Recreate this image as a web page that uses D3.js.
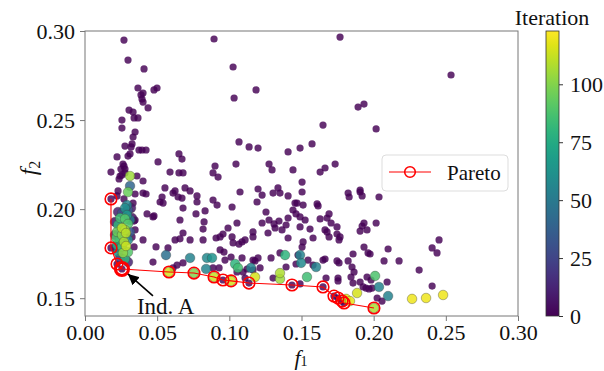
<!DOCTYPE html>
<html><head><meta charset="utf-8">
<script src="https://cdn.jsdelivr.net/npm/d3@7"></script>
<style>
body{margin:0;background:#fff}
svg{display:block}
svg text{font-family:"Liberation Serif","Times New Roman",serif !important;fill:#111}
</style>
</head><body>
<svg id="c" width="604" height="371"></svg>
<script>
// ---------- DATA ----------
// initial population (iteration 0)
const initF1 = [0.0270,0.0298,0.0409,0.0367,0.0402,0.0388,0.0395,0.0402,0.0437,0.0478,0.0499,0.0305,0.0333,0.0256,0.0340,0.0367,0.0256,0.0347,0.0333,0.0326,
0.0277,0.0319,0.0374,0.0395,0.0423,0.0312,0.0298,0.0222,0.0506,0.0263,0.0270,0.0249,0.0277,0.0180,0.0277,0.0243,0.0651,0.0672,0.0589,0.0651,
0.0679,0.0894,0.1026,0.1033,0.1185,0.1067,0.1137,0.1199,0.1407,0.1490,0.0901,0.1046,0.1275,0.1296,0.1441,0.0887,0.0922,0.1767,0.2536,0.1892,
0.1933,0.1649,0.2017,0.1573,0.1629,0.1663,0.1733,0.1504,0.1906,0.2453,0.2405,0.2439,0.2315,0.2405,0.1504,0.1823,0.1830,0.1906,0.1920,0.2037,
0.1511,0.1608,0.1615,0.1455,0.1691,0.1677,0.1525,0.1629,0.1705,0.1746,0.1920,0.1933,0.2017,0.1663,0.1677,0.1559,0.1490,0.1746,0.1767,0.1760,
0.1954,0.1906,0.1511,0.1504,0.1691,0.1580,0.1933,0.1961,0.1975,0.2100,0.1857,0.1649,0.1663,0.1746,0.1760,0.1823,0.2072,0.2176,0.1580,0.1545,
0.1850,0.1864,0.1670,0.1753,0.1753,0.1843,0.1906,0.1954,0.1982,0.2093,0.1927,0.1947,0.1968,0.1989,0.2024,0.2058,0.1490,0.1857,0.1074,0.1199,
0.1227,0.1192,0.1337,0.1351,0.1407,0.1303,0.1469,0.0693,0.0672,0.0776,0.0776,0.0915,0.1019,0.0658,0.0769,0.0832,0.0825,0.0818,0.0991,0.0956,
0.0936,0.1019,0.1109,0.1067,0.1026,0.1088,0.1164,0.1164,0.1254,0.1275,0.1227,0.1310,0.1344,0.1407,0.1441,0.1462,0.1490,0.1393,0.1365,0.1317,
0.1268,0.1407,0.0728,0.0818,0.0908,0.0679,0.0936,0.0963,0.0970,0.1012,0.1088,0.1164,0.1178,0.1199,0.1351,0.1289,0.0887,0.0929,0.1053,0.1095,
0.1213,0.1109,0.1476,0.1462,0.1393,0.1303,0.1123,0.1164,0.0402,0.0534,0.0541,0.0610,0.0645,0.0887,0.0423,0.0347,0.0229,0.0222,0.0270,0.0402,
0.0347,0.0430,0.0478,0.1053,0.0402,0.0492,0.0575,0.0658,0.0471,0.0610,0.0638,0.0679,0.0679,0.0554,0.0624,0.0471,0.0624,0.0333,0.0360,0.0340,
0.0326,0.0340,0.0347,0.0520,0.0728,0.0256,0.0236,
0.0180,0.0180,0.0222,0.0256,0.0956,0.1136,0.1434,0.1649,0.1725,0.1753,0.1781,0.1795];
const initF2 = [0.2949,0.2837,0.2787,0.2680,0.2652,0.2641,0.2618,0.2601,0.2568,0.2669,0.2680,0.2556,0.2545,0.2500,0.2512,0.2512,0.2455,0.2433,0.2405,0.2366,
0.2354,0.2349,0.2332,0.2332,0.2332,0.2310,0.2298,0.2293,0.2265,0.2253,0.2242,0.2225,0.2225,0.2208,0.2203,0.2186,0.2310,0.2281,0.2208,0.2203,
0.2203,0.2955,0.2798,0.2624,0.2669,0.2377,0.2349,0.2343,0.2321,0.2343,0.2242,0.2253,0.2253,0.2220,0.2220,0.2203,0.2180,0.2966,0.2753,0.2573,
0.2590,0.2472,0.2450,0.2366,0.2208,0.2231,0.2253,0.2152,0.2107,0.1827,0.1782,0.1754,0.1658,0.1568,0.2096,0.2090,0.2068,0.2096,0.2074,0.2068,
0.2023,0.2029,0.2018,0.2034,0.1973,0.1950,0.1939,0.1945,0.1922,0.1900,0.1905,0.1922,0.1922,0.1883,0.1872,0.1888,0.1900,0.1860,0.1844,0.1827,
0.1883,0.1877,0.1816,0.1787,0.1844,0.1838,0.1787,0.1754,0.1748,0.1776,0.1748,0.1714,0.1720,0.1709,0.1698,0.1709,0.1709,0.1709,0.1686,0.1714,
0.1675,0.1647,0.1613,0.1613,0.1597,0.1619,0.1591,0.1619,0.1602,0.1591,0.1563,0.1557,0.1552,0.1557,0.1501,0.1484,0.1580,0.1585,0.2096,0.2113,
0.2079,0.2040,0.2119,0.2090,0.2074,0.2090,0.2034,0.2119,0.2062,0.2074,0.2040,0.2023,0.2012,0.1939,0.1973,0.1990,0.1928,0.1888,0.1894,0.1860,
0.1844,0.1844,0.1827,0.1804,0.1810,0.1816,0.1872,0.1844,0.1984,0.1939,0.1922,0.1917,0.1933,0.1950,0.1995,0.1973,0.1956,0.1911,0.1883,0.1894,
0.1866,0.1838,0.1827,0.1827,0.1838,0.1866,0.1771,0.1759,0.1714,0.1731,0.1726,0.1714,0.1709,0.1726,0.1754,0.1726,0.1670,0.1670,0.1647,0.1647,
0.1670,0.1613,0.1742,0.1692,0.1675,0.1613,0.1664,0.1658,0.2090,0.2068,0.2034,0.2090,0.2068,0.2051,0.2085,0.2085,0.2102,0.2074,0.2057,0.2158,
0.1939,0.1973,0.1962,0.1922,0.1827,0.1788,0.1782,0.1833,0.1703,0.1670,0.1686,0.1698,0.2006,0.2119,0.2102,0.1956,0.1827,0.2034,0.2186,0.1933,
0.1844,0.1788,0.1883,0.2040,0.2102,0.2192,0.2169,
0.2057,0.1782,0.1692,0.1664,0.1602,0.1585,0.1574,0.1563,0.1512,0.1501,0.1484,0.1473];

// later iterations
const optF1 = [0.0312,0.0312,0.0298,0.0291,0.0277,0.0298,0.0229,0.0256,0.0291,0.0243,0.0277,0.0312,0.0229,0.0256,0.0277,0.0298,0.0222,0.0256,0.0284,0.0312,
0.0215,0.0243,0.0270,0.0298,0.0222,0.0256,0.0284,0.0229,0.0263,0.0298,0.0243,0.0277,0.0298,0.0319,0.0326,0.0208,0.0208,0.0215,
0.0561,0.0728,0.0845,0.0880,0.0839,0.1040,0.1060,0.1150,0.1178,0.1351,0.1351,0.1386,0.1490,0.1497,0.1601,0.1538,0.2010,0.2037,0.2100,0.1885,
0.1809,0.1836,0.2266,0.2363,0.2481,0.0582,0.0755,0.0894,0.1012,0.2002];
const optF2 = [0.2186,0.2130,0.2096,0.2023,0.2006,0.1995,0.1984,0.1978,0.1967,0.1950,0.1945,0.1939,0.1911,0.1894,0.1883,0.1917,0.1872,0.1855,0.1866,0.1872,
0.1838,0.1827,0.1816,0.1827,0.1799,0.1788,0.1793,0.1759,0.1754,0.1759,0.1726,0.1720,0.1703,0.2006,0.1950,0.1928,0.1855,0.1782,
0.1742,0.1726,0.1726,0.1726,0.1664,0.1692,0.1670,0.1670,0.1619,0.1641,0.1608,0.1742,0.1742,0.1698,0.1675,0.1619,0.1625,0.1563,0.1512,0.1529,
0.1496,0.1484,0.1496,0.1501,0.1518,0.1647,0.1641,0.1619,0.1597,0.1445];
const optIter = [105,40,95,55,60,35,10,30,65,85,90,50,80,110,105,90,95,100,110,35,
88,80,108,60,75,85,112,62,102,90,15,80,12,8,6,5,10,8,
45,55,58,62,55,80,85,55,115,108,105,80,55,58,55,85,88,55,55,115,
118,118,120,120,120,115,100,112,115,108];

// Pareto front
const paretoF1 = [0.0180,0.0180,0.0222,0.0256,0.0582,0.0755,0.0894,0.0956,0.1012,0.1136,0.1434,0.1649,0.1725,0.1753,0.1781,0.1795,0.2002];
const paretoF2 = [0.2057,0.1782,0.1692,0.1664,0.1647,0.1641,0.1619,0.1602,0.1597,0.1585,0.1574,0.1563,0.1512,0.1501,0.1484,0.1473,0.1445];
const indA = {f1:0.0256, f2:0.1664, label:"Ind. A"};

const xTicks = [0,0.05,0.10,0.15,0.20,0.25,0.30];
const yTicks = [0.15,0.20,0.25,0.30];
const cbTicks = [0,25,50,75,100];
const iterMax = 123;

// ---------- DRAW ----------
const SERIF = '"Liberation Serif","Times New Roman",serif';
const svg = d3.select("#c");
const x = d3.scaleLinear().domain([0,0.30]).range([85,518]);
const y = d3.scaleLinear().domain([0.14,0.30]).range([316,31]);
const color = d3.scaleSequential(d3.interpolateViridis).domain([0,iterMax]);
const spine = "#777";

// axes
const gx = svg.append("g").attr("transform","translate(0,316)")
  .call(d3.axisBottom(x).tickValues(xTicks).tickFormat(d3.format(".2f")).tickSize(5).tickPadding(3));
const gy = svg.append("g").attr("transform","translate(85,0)")
  .call(d3.axisLeft(y).tickValues(yTicks).tickFormat(d3.format(".2f")).tickSize(5).tickPadding(5));
[gx,gy].forEach(g=>{
  g.attr("font-family",SERIF);
  g.select(".domain").remove();
  g.selectAll(".tick line").attr("stroke",spine);
  g.selectAll(".tick text").attr("font-size",22).style("font-family",SERIF).attr("fill","#111");
});
svg.append("rect").attr("x",85).attr("y",31).attr("width",433).attr("height",285)
  .attr("fill","none").attr("stroke",spine).attr("stroke-width",1);

const plot = svg.append("g");
// initial points
plot.selectAll("circle.init").data(initF1.map((v,i)=>[v,initF2[i]])).join("circle")
  .attr("cx",d=>x(d[0])).attr("cy",d=>y(d[1])).attr("r",3.6)
  .attr("fill",color(0)).attr("fill-opacity",0.82);
// later iterations
const opt = optF1.map((v,i)=>({f1:v,f2:optF2[i],it:optIter[i]})).sort((a,b)=>a.it-b.it);
plot.selectAll("circle.opt").data(opt).join("circle")
  .attr("cx",d=>x(d.f1)).attr("cy",d=>y(d.f2)).attr("r",4.8)
  .attr("fill",d=>color(d.it)).attr("fill-opacity",0.85)
  .attr("stroke","#3a3a3a").attr("stroke-opacity",0.6).attr("stroke-width",0.6);

// Pareto
const pts = paretoF1.map((v,i)=>[v,paretoF2[i]]);
plot.append("path").datum(pts)
  .attr("d",d3.line().x(d=>x(d[0])).y(d=>y(d[1])))
  .attr("fill","none").attr("stroke","#f00").attr("stroke-width",1.1);
plot.selectAll("circle.par").data(pts).join("circle")
  .attr("cx",d=>x(d[0])).attr("cy",d=>y(d[1])).attr("r",5.8)
  .attr("fill","none").attr("stroke","#f00").attr("stroke-width",1.6);
plot.append("circle").attr("cx",x(indA.f1)).attr("cy",y(indA.f2)).attr("r",7)
  .attr("fill","none").attr("stroke","#f00").attr("stroke-width",2.2);

// annotation
svg.append("defs").append("marker").attr("id","ah").attr("viewBox","0 0 10 10")
  .attr("refX",10).attr("refY",5).attr("markerWidth",11).attr("markerHeight",11)
  .attr("markerUnits","userSpaceOnUse").attr("orient","auto")
  .append("path").attr("d","M0,0L10,5L0,10z").attr("fill","#000");
const ax = x(indA.f1), ay = y(indA.f2);
svg.append("line").attr("x1",ax+31).attr("y1",ay+27).attr("x2",ax+6).attr("y2",ay+5)
  .attr("stroke","#000").attr("stroke-width",1.6).attr("marker-end","url(#ah)");
svg.append("text").attr("x",ax+15).attr("y",ay+45).attr("font-size",23).text(indA.label);

// legend
const lg = svg.append("g");
lg.append("rect").attr("x",382).attr("y",155).attr("width",126).attr("height",36).attr("rx",4)
  .attr("fill","#fff").attr("fill-opacity",0.8).attr("stroke","#ddd");
lg.append("line").attr("x1",389).attr("x2",431).attr("y1",172).attr("y2",172).attr("stroke","#f00").attr("stroke-width",1.1);
lg.append("circle").attr("cx",410).attr("cy",172).attr("r",5.3).attr("fill","none").attr("stroke","#f00").attr("stroke-width",1.6);
lg.append("text").attr("x",447).attr("y",180).attr("font-size",21).text("Pareto");

// axis labels
const xl = svg.append("text").attr("x",301).attr("y",365).attr("text-anchor","middle").attr("font-size",22);
xl.append("tspan").attr("font-style","italic").text("f");
xl.append("tspan").attr("font-size",14).attr("dy",1).text("1");
const yl = svg.append("text").attr("transform","translate(36,168) rotate(-90)").attr("text-anchor","middle").attr("font-size",24);
yl.append("tspan").attr("font-style","italic").text("f");
yl.append("tspan").attr("font-size",16).attr("dy",4).text("2");

// colorbar
const grad = svg.select("defs").append("linearGradient").attr("id","vg")
  .attr("x1",0).attr("y1",1).attr("x2",0).attr("y2",0);
d3.range(0,1.0001,0.05).forEach(t=>grad.append("stop").attr("offset",t).attr("stop-color",d3.interpolateViridis(t)));
const cb = d3.scaleLinear().domain([0,iterMax]).range([316,31]);
svg.append("rect").attr("x",546).attr("y",31).attr("width",13).attr("height",285)
  .attr("fill","url(#vg)").attr("stroke","#333").attr("stroke-width",0.8);
const gc = svg.append("g").attr("transform","translate(559,0)")
  .call(d3.axisRight(cb).tickValues(cbTicks).tickSize(4).tickPadding(7));
gc.select(".domain").remove();
gc.selectAll(".tick line").attr("stroke","#333");
gc.selectAll(".tick text").attr("font-size",22).style("font-family",SERIF).attr("fill","#111");
svg.append("text").attr("x",552).attr("y",25).attr("text-anchor","middle").attr("font-size",22).text("Iteration");
</script>
</body></html>
